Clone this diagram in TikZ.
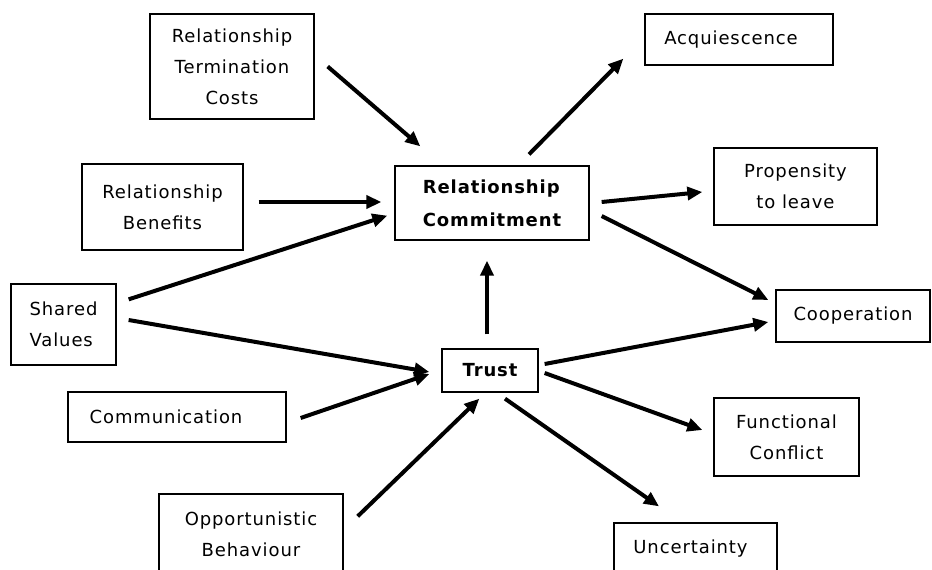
\documentclass[tikz,border=0pt]{standalone}
\usepackage{fontspec}
\setmainfont{DejaVu Sans}[LetterSpace=5]
\usetikzlibrary{arrows.meta}
\begin{document}
\begin{tikzpicture}[x=1pt,y=-1pt,
  box/.style={draw=black, line width=1.3pt, inner sep=0pt, align=center,
    font=\fontsize{18}{31}\selectfont},
  arr/.style={line width=4pt, -{Triangle[length=15pt,width=13pt]}}]
\clip (0,0) rectangle (932,570);

% outer factors feeding commitment and trust
\node[box, minimum width=164pt, minimum height=105pt] (tc) at (232,66.5)
  {Relationship\\Termination\\Costs};
\node[box, minimum width=161pt, minimum height=86pt] (ben) at (162.5,207)
  {Relationship\\Benefits};
\node[box, minimum width=105pt, minimum height=81pt, align=left] (sv) at (63.5,324.5)
  {Shared\\Values};
\node[box, minimum width=218pt, minimum height=50pt] (comm) at (177,417)
  {Communication\hspace*{22pt}};
\node[box, minimum width=184pt, minimum height=80pt] (opp) at (251,534)
  {Opportunistic\\Behaviour};

% the two central constructs
\node[box, minimum width=194pt, minimum height=74pt, align=left,
  font=\fontsize{18}{33}\selectfont\bfseries] (rc) at (492,203)
  {Relationship\\Commitment};
\node[box, minimum width=96pt, minimum height=43pt,
  font=\fontsize{18}{31}\selectfont\bfseries] (trust) at (490,370.5) {Trust};

% outcomes
\node[box, minimum width=188pt, minimum height=51pt] (acq) at (739,39.5)
  {Acquiescence\hspace*{16pt}};
\node[box, minimum width=163pt, minimum height=77pt] (prop) at (795.5,186.5)
  {Propensity\\to leave};
\node[box, minimum width=154pt, minimum height=52pt] (coop) at (853,316)
  {Cooperation};
\node[box, minimum width=145pt, minimum height=78pt] (fc) at (786.5,437)
  {Functional\\Conflict};
\node[box, minimum width=163pt, minimum height=52pt] (unc) at (695.5,549)
  {Uncertainty\hspace*{10pt}};

% arrows into commitment
\draw[arr] ([shift={(13,0)}]tc.east) -- ([shift={(26,-19)}]rc.north west);
\draw[arr] ([shift={(15,-5)}]ben.east) -- ([shift={(-13,-1)}]rc.west);
\draw[arr] ([shift={(12,16)}]sv.north east) -- ([shift={(-7,-25)}]rc.south west);
\draw[arr] ([shift={(-3,-14)}]trust.north) -- ([shift={(-5,20)}]rc.south);

% arrows into trust
\draw[arr] ([shift={(12,-4.5)}]sv.east) -- ([shift={(-12,1.5)}]trust.west);
\draw[arr] ([shift={(14,1)}]comm.east) -- ([shift={(-12,3.5)}]trust.west);
\draw[arr] ([shift={(14,23)}]opp.north east) -- ([shift={(38,6)}]trust.south west);

% arrows out of commitment
\draw[arr] ([shift={(37,-11)}]rc.north) -- ([shift={(-21,-7)}]acq.south west);
\draw[arr] ([shift={(12,-1)}]rc.east) -- ([shift={(-11,5.5)}]prop.west);
\draw[arr] ([shift={(12,13)}]rc.east) -- ([shift={(-7,-16)}]coop.west);

% arrows out of trust
\draw[arr] ([shift={(6,-6.5)}]trust.east) -- ([shift={(-7,6)}]coop.west);
\draw[arr] ([shift={(6,2.5)}]trust.east) -- ([shift={(-11,-7)}]fc.west);
\draw[arr] ([shift={(15,6)}]trust.south) -- ([shift={(-36.5,-16)}]unc.north);
\end{tikzpicture}
\end{document}
